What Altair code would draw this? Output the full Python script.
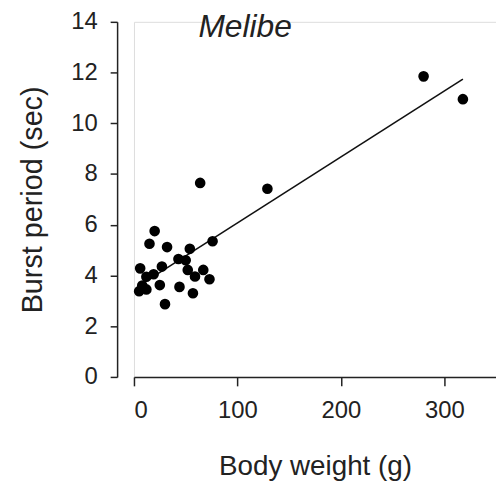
import altair as alt
import pandas as pd

weight = [280, 318, 129, 64, 20, 15, 32, 54, 76, 43, 50, 6, 27, 19, 12, 8, 5, 12, 25, 44, 52, 59, 67, 73, 57, 30]
period = [11.85, 10.95, 7.42, 7.65, 5.75, 5.25, 5.12, 5.05, 5.35, 4.65, 4.6, 4.28, 4.35, 4.05, 3.95, 3.6, 3.38, 3.45, 3.62, 3.55, 4.22, 3.96, 4.22, 3.85, 3.3, 2.87]
fit_x = [5, 318]
fit_y = [3.60, 11.74]

pts = pd.DataFrame({"w": weight, "p": period})
fit = pd.DataFrame({"w": fit_x, "p": fit_y})

FONT = "Liberation Sans"
xs = alt.Scale(domain=[0, 350], nice=False)
ys = alt.Scale(domain=[0, 14], nice=False)

xax = alt.Axis(title="Body weight (g)", values=[0, 100, 200, 300], grid=False,
               tickSize=9, labelPadding=13, titlePadding=30, labelFontSize=24,
               titleFontSize=28, labelFont=FONT, titleFont=FONT, titleFontWeight="normal",
               domainColor="#222", tickColor="#222", labelColor="#222", titleColor="#222",
               domainWidth=1.5, tickWidth=1.5)
yax = alt.Axis(title="Burst period (sec)", values=[0, 2, 4, 6, 8, 10, 12, 14], grid=False,
               offset=17, tickSize=7, labelPadding=13, titlePadding=24, labelFontSize=24,
               titleFontSize=29, labelFont=FONT, titleFont=FONT, titleFontWeight="normal",
               domainColor="#222", tickColor="#222", labelColor="#222", titleColor="#222",
               domainWidth=1.5, tickWidth=1.5)

line = alt.Chart(fit).mark_line(color="#111", strokeWidth=1.6).encode(
    x=alt.X("w:Q", scale=xs, axis=xax),
    y=alt.Y("p:Q", scale=ys, axis=yax),
)
dots = alt.Chart(pts).mark_circle(color="#000", opacity=1, size=115).encode(
    x=alt.X("w:Q", scale=xs, axis=xax),
    y=alt.Y("p:Q", scale=ys, axis=yax),
)

chart = alt.layer(line, dots).properties(
    width=365, height=358,
    title=alt.TitleParams("Melibe", font=FONT, fontSize=32, fontStyle="italic",
                          fontWeight="normal", color="#222", anchor="start",
                          frame="group", dx=65, dy=63, baseline="alphabetic"),
    autosize=alt.AutoSizeParams(type="none"),
    padding={"left": 127, "top": 12, "right": 0, "bottom": 105},
).configure_view(stroke=None).configure(background="white")

chart.save("out.html", embed_options={"renderer": "svg", "actions": False})
